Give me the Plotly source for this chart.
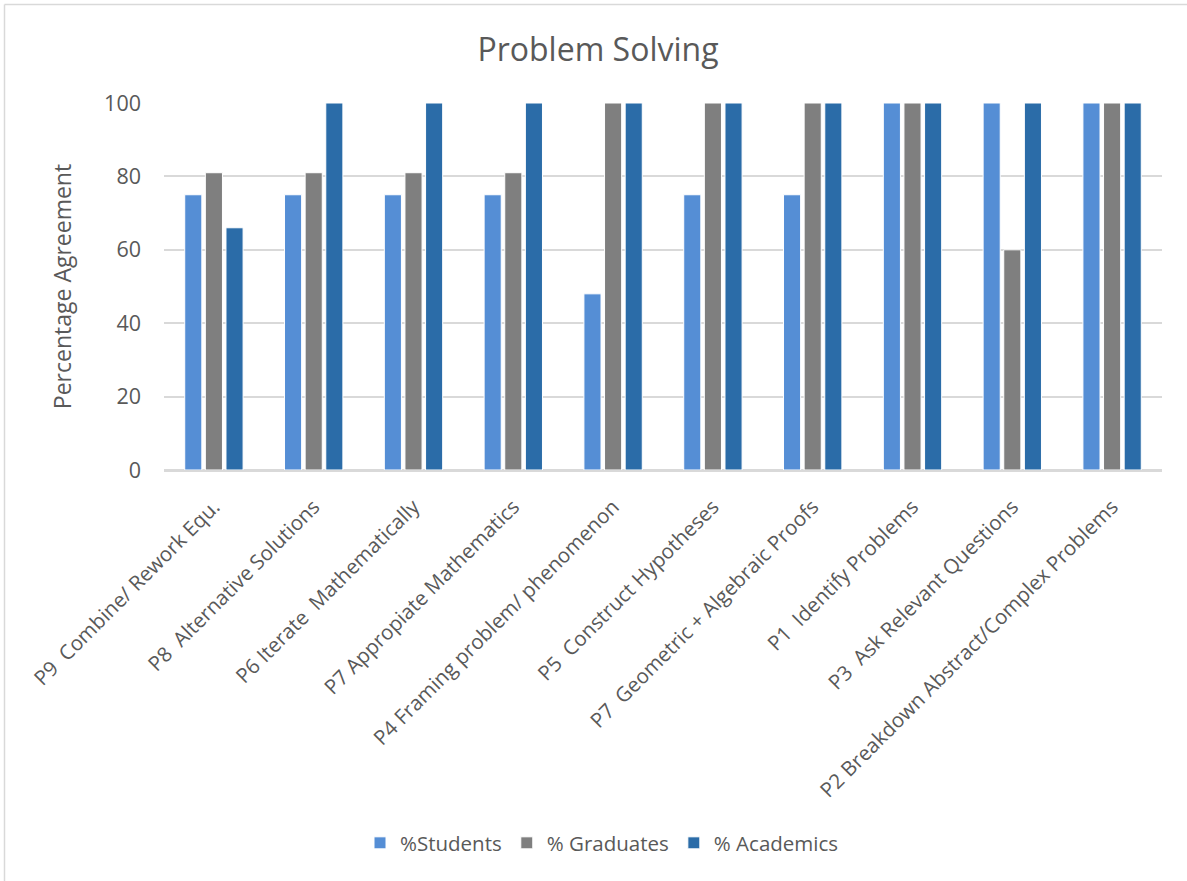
import plotly.graph_objects as go

# Problem-solving survey: percentage agreement by group
categories = [
    "P9  Combine/ Rework Equ.",
    "P8  Alternative Solutions",
    "P6 Iterate  Mathematically",
    "P7 Appropiate Mathematics",
    "P4 Framing problem/ phenomenon",
    "P5  Construct Hypotheses",
    "P7  Geometric + Algebraic Proofs",
    "P1  Identify Problems",
    "P3  Ask Relevant Questions",
    "P2 Breakdown Abstract/Complex Problems",
]
students = [75, 75, 75, 75, 48, 75, 75, 100, 100, 100]
graduates = [81, 81, 81, 81, 100, 100, 100, 100, 60, 100]
academics = [66, 100, 100, 100, 100, 100, 100, 100, 100, 100]

series_names = ["%Students", "% Graduates", "% Academics"]
series_colors = ["#558ED5", "#7F7F7F", "#2B6CA8"]
y_ticks = [0, 20, 40, 60, 80, 100]

FONT = "Open Sans"
TEXT = "#595959"
GRID = "#D9D9D9"

W, H = 1187, 881
L, R, T, B = 164, 25, 103, 411

fig = go.Figure()
for name, vals, col in zip(series_names, [students, graduates, academics], series_colors):
    fig.add_trace(go.Bar(
        x=categories, y=vals, name=name,
        marker=dict(color=col, line=dict(color="white", width=1)),
    ))

# outer chart frame (top and left edges visible)
pw, ph = W - L - R, H - T - B
def px_x(p):
    return (p - L) / pw
def px_y(p):
    return (H - B - p) / ph

fig.add_shape(type="line", xref="paper", yref="paper",
              x0=px_x(4.5), x1=px_x(1200), y0=px_y(4.5), y1=px_y(4.5),
              line=dict(color=GRID, width=1.5))
fig.add_shape(type="line", xref="paper", yref="paper",
              x0=px_x(4.5), x1=px_x(4.5), y0=px_y(4.5), y1=px_y(900),
              line=dict(color=GRID, width=1.5))

fig.update_layout(
    width=W, height=H,
    margin=dict(l=L, r=R, t=T, b=B),
    paper_bgcolor="white", plot_bgcolor="white",
    barmode="group", bargap=0.38, bargroupgap=0.17,
    font=dict(family=FONT, color=TEXT),
    title=dict(text="Problem Solving", x=598 / W, xanchor="center",
               y=1 - 50 / H, yanchor="middle", yref="container",
               font=dict(size=32, color=TEXT, family=FONT)),
    xaxis=dict(tickangle=-45, tickfont=dict(size=20.5, color=TEXT),
               showgrid=False, showline=True, linecolor=GRID, linewidth=1.5,
               ticks="", ticklen=0, ticklabelstandoff=15),
    yaxis=dict(range=[0, 100], tickvals=y_ticks, tickfont=dict(size=21.5, color=TEXT),
               showgrid=True, gridcolor=GRID, gridwidth=1.5,
               zeroline=True, zerolinecolor=GRID, zerolinewidth=1.5,
               showline=False, ticks="", ticklabelstandoff=22,
               title=dict(text="Percentage Agreement", font=dict(size=23, color=TEXT),
                          standoff=26)),
    legend=dict(orientation="h", xref="container", yref="container",
                x=602 / W, xanchor="center", y=1 - 843 / H, yanchor="middle",
                font=dict(size=20.5, color=TEXT), itemwidth=30,
                traceorder="normal"),
    showlegend=True,
)

fig.write_html("out.html")
